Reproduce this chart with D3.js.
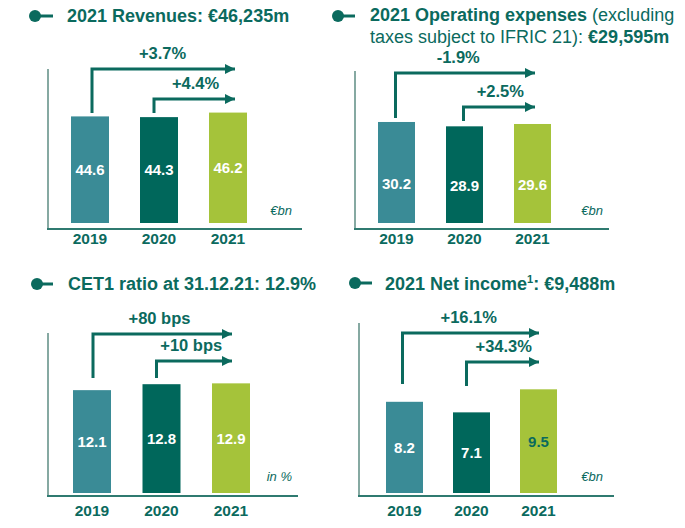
<!DOCTYPE html>
<html>
<head>
<meta charset="utf-8">
<script src="https://cdn.jsdelivr.net/npm/d3@7"></script>
<style>
  html, body { margin: 0; padding: 0; background: #ffffff; }
  svg { display: block; font-family: Arial, "Liberation Sans", Helvetica, sans-serif; }
</style>
</head>
<body>
<svg id="chart" width="685" height="528"></svg>
<script>
// ---------- DATA ----------
const years = ["2019", "2020", "2021"];

const revenues = [44.6, 44.3, 46.2];
const revenueChanges = ["+3.7%", "+4.4%"];

const opex = [30.2, 28.9, 29.6];
const opexChanges = ["-1.9%", "+2.5%"];

const cet1 = [12.1, 12.8, 12.9];
const cet1Changes = ["+80 bps", "+10 bps"];

const netIncome = [8.2, 7.1, 9.5];
const netIncomeChanges = ["+16.1%", "+34.3%"];

const units = ["€bn", "€bn", "in %", "€bn"];

// Title pieces: [text, bold?, superscript?]
const titles = [
  [[["2021 Revenues: €46,235m", true]]],
  [[["2021 Operating expenses", true], [" (excluding", false]],
   [["taxes subject to IFRIC 21): ", false], ["€29,595m", true]]],
  [[["CET1 ratio at 31.12.21: 12.9%", true]]],
  [[["2021 Net income", true], ["1", true, true], [": €9,488m", true]]]
];

// ---------- STYLE ----------
const barColors = ["#3a8b96", "#00675b", "#a5c33a"];
const labelColors = ["#ffffff", "#ffffff", "#ffffff"];
const darkTeal = "#0b6a5e";
const yAxisColor = "#86a9a2";
const xAxisColor = "#2f7a70";

// ---------- LAYOUT (per panel) ----------
const layouts = [
  { axisX: 48, axisY: 229, axisTop: 69, axisRight: 302, barBase: 223, firstBar: 23, step: 69, bw: 38,
    ppu: 2.39, dmin: 0, labelDy: 0, yearY: 244,
    a1: { dx: 2, start: 113, level: 69 }, a2: { dx: -5, start: 113, level: 99 }, endX: 235,
    l1dx: -1, l2dx: 1,
    unitX: 292, unitY: 215,
    title: { cx: 35, cy: 16, lineEnd: 53, tx: 67, ty: 22, lh: 23 } },
  { axisX: 355, axisY: 229, axisTop: 71, axisRight: 609, barBase: 223, firstBar: 23, step: 68, bw: 37,
    ppu: 3.345, dmin: 0, labelDy: 11, yearY: 244,
    a1: { dx: -1, start: 118, level: 73 }, a2: { dx: -1, start: 121, level: 107 }, endX: 535,
    l1dx: -7, l2dx: 1,
    unitX: 603, unitY: 215,
    title: { cx: 338, cy: 16, lineEnd: 355, tx: 370, ty: 21, lh: 22 } },
  { axisX: 48, axisY: 496, axisTop: 333, axisRight: 298, barBase: 493, firstBar: 25, step: 69.5, bw: 38,
    ppu: 8.5, dmin: 0, labelDy: 0, yearY: 516,
    a1: { dx: 1, start: 378, level: 334 }, a2: { dx: -5, start: 378, level: 361 }, endX: 232,
    l1dx: -3, l2dx: -3,
    unitX: 292, unitY: 481,
    title: { cx: 37, cy: 284, lineEnd: 53, tx: 68, ty: 290, lh: 22 } },
  { axisX: 359, axisY: 496, axisTop: 323, axisRight: 614, barBase: 493, firstBar: 27, step: 67, bw: 37,
    ppu: 9.6, dmin: -1.3, labelDy: 0, yearY: 516,
    a1: { dx: -2, start: 384, level: 333 }, a2: { dx: -5, start: 386, level: 362 }, endX: 539,
    l1dx: -2, l2dx: 1,
    unitX: 603, unitY: 481,
    title: { cx: 355, cy: 283, lineEnd: 372, tx: 385, ty: 290, lh: 22 } }
];

const panelValues = [revenues, opex, cet1, netIncome];
const panelChanges = [revenueChanges, opexChanges, cet1Changes, netIncomeChanges];
const panelLabelColors = [labelColors, labelColors, labelColors, ["#ffffff", "#ffffff", darkTeal]];

const svg = d3.select("#chart");

// arrow marker
svg.append("defs").append("marker")
  .attr("id", "arrowhead")
  .attr("viewBox", "0 0 10 10")
  .attr("refX", 10).attr("refY", 5)
  .attr("markerWidth", 10).attr("markerHeight", 10)
  .attr("markerUnits", "userSpaceOnUse")
  .attr("orient", "auto")
  .append("path")
  .attr("d", "M0,0 L10,5 L0,10 Z")
  .attr("fill", darkTeal);

panelValues.forEach((vals, i) => {
  const L = layouts[i];
  const g = svg.append("g");

  // scales
  const start = L.axisX + L.firstBar - (L.step - L.bw) / 2;
  const x = d3.scaleBand()
    .domain(years)
    .range([start, start + L.step * years.length])
    .paddingInner(1 - L.bw / L.step)
    .paddingOuter((1 - L.bw / L.step) / 2);
  const plotH = L.barBase - L.axisTop;
  const y = d3.scaleLinear()
    .domain([L.dmin, L.dmin + plotH / L.ppu])
    .range([L.barBase, L.axisTop]);

  // title
  const T = L.title;
  g.append("line")
    .attr("x1", T.cx).attr("x2", T.lineEnd)
    .attr("y1", T.cy).attr("y2", T.cy)
    .attr("stroke", darkTeal).attr("stroke-width", 3);
  g.append("circle")
    .attr("cx", T.cx).attr("cy", T.cy).attr("r", 6)
    .attr("fill", darkTeal);
  titles[i].forEach((line, li) => {
    const t = g.append("text")
      .attr("x", T.tx).attr("y", T.ty + li * T.lh)
      .attr("fill", darkTeal)
      .attr("font-size", 18);
    line.forEach(p => {
      const ts = t.append("tspan")
        .attr("font-weight", p[1] ? "bold" : "normal")
        .text(p[0]);
      if (p[2]) ts.attr("font-size", 11).attr("dy", -7);
      else if (line.some(q => q[2]) && line.indexOf(p) > 0 && line[line.indexOf(p) - 1][2]) ts.attr("dy", 7);
    });
  });

  // axes lines
  g.append("line")
    .attr("x1", L.axisX).attr("x2", L.axisX)
    .attr("y1", L.axisTop).attr("y2", L.axisY)
    .attr("stroke", yAxisColor).attr("stroke-width", 2);
  g.append("line")
    .attr("x1", L.axisX - 1).attr("x2", L.axisRight)
    .attr("y1", L.axisY).attr("y2", L.axisY)
    .attr("stroke", xAxisColor).attr("stroke-width", 2);

  // bars
  g.selectAll("rect.bar")
    .data(vals)
    .join("rect")
    .attr("class", "bar")
    .attr("x", (d, j) => x(years[j]))
    .attr("width", x.bandwidth())
    .attr("y", d => y(d))
    .attr("height", d => y(L.dmin) - y(d))
    .attr("fill", (d, j) => barColors[j]);

  // value labels
  g.selectAll("text.val")
    .data(vals)
    .join("text")
    .attr("class", "val")
    .attr("x", (d, j) => x(years[j]) + x.bandwidth() / 2)
    .attr("y", d => (y(d) + y(L.dmin)) / 2 + L.labelDy)
    .attr("dy", "0.36em")
    .attr("text-anchor", "middle")
    .attr("font-weight", "bold")
    .attr("font-size", 15)
    .attr("fill", (d, j) => panelLabelColors[i][j])
    .text(d => d.toFixed(1));

  // year labels
  g.selectAll("text.year")
    .data(years)
    .join("text")
    .attr("class", "year")
    .attr("x", d => x(d) + x.bandwidth() / 2)
    .attr("y", L.yearY)
    .attr("text-anchor", "middle")
    .attr("font-weight", "bold")
    .attr("font-size", 15.5)
    .attr("fill", darkTeal)
    .text(d => d);

  // unit
  g.append("text")
    .attr("x", L.unitX).attr("y", L.unitY)
    .attr("text-anchor", "end")
    .attr("font-style", "italic")
    .attr("font-size", 13)
    .attr("fill", darkTeal)
    .text(units[i]);

  // change arrows
  const arrows = [
    { from: years[0], A: L.a1, label: panelChanges[i][0], ldx: L.l1dx },
    { from: years[1], A: L.a2, label: panelChanges[i][1], ldx: L.l2dx }
  ];
  arrows.forEach(a => {
    const ax = x(a.from) + x.bandwidth() / 2 + a.A.dx;
    const p = d3.path();
    p.moveTo(ax, a.A.start);
    p.lineTo(ax, a.A.level);
    p.lineTo(L.endX, a.A.level);
    g.append("path")
      .attr("d", p.toString())
      .attr("fill", "none")
      .attr("stroke", darkTeal)
      .attr("stroke-width", 3)
      .attr("marker-end", "url(#arrowhead)");
    g.append("text")
      .attr("x", (ax + L.endX) / 2 + a.ldx)
      .attr("y", a.A.level - 10)
      .attr("text-anchor", "middle")
      .attr("font-weight", "bold")
      .attr("font-size", 16.5)
      .attr("fill", darkTeal)
      .text(a.label);
  });
});
</script>
</body>
</html>
